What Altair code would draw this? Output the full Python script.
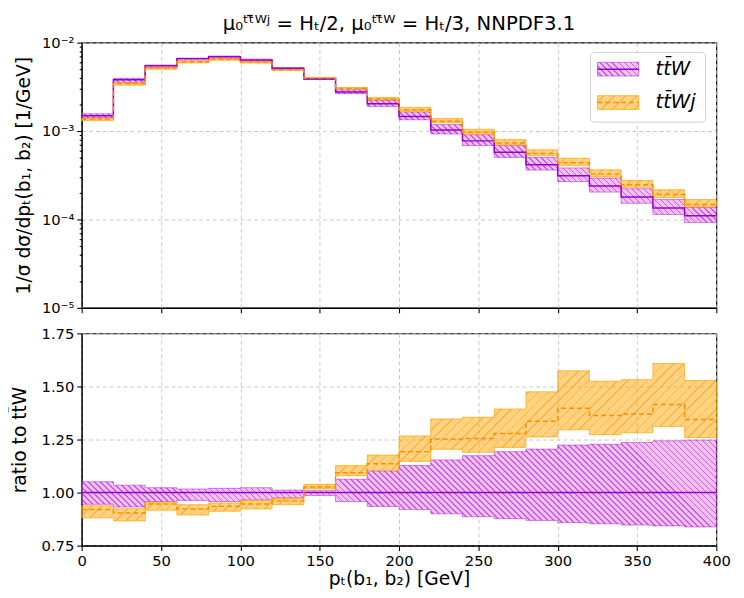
import math
import altair as alt
import pandas as pd

# ---------------- data ----------------
edges = [0, 20, 40, 60, 80, 100, 120, 140, 160, 180, 200,
         220, 240, 260, 280, 300, 320, 340, 360, 380, 400]

# ttW central distribution [1/GeV]
ttw_central = [1.49e-3, 3.81e-3, 5.46e-3, 6.59e-3, 6.93e-3, 6.36e-3, 5.14e-3,
               3.88e-3, 2.76e-3, 2.03e-3, 1.46e-3, 1.03e-3, 7.74e-4, 5.74e-4,
               4.16e-4, 3.13e-4, 2.39e-4, 1.80e-4, 1.35e-4, 1.10e-4]

# ttW scale band, as ratio to ttW central
ttw_ratio_lo = [0.945, 0.932, 0.958, 0.963, 0.958, 0.965, 0.974, 0.986, 0.958, 0.935,
                0.920, 0.900, 0.886, 0.877, 0.869, 0.858, 0.853, 0.847, 0.843, 0.838]
ttw_ratio_hi = [1.051, 1.035, 1.023, 1.017, 1.020, 1.023, 1.012, 1.009, 1.063, 1.102,
                1.128, 1.154, 1.174, 1.193, 1.205, 1.224, 1.228, 1.236, 1.244, 1.247]

# ttWj central and band, as ratio to ttW central
ttwj_ratio = [0.920, 0.904, 0.946, 0.923, 0.935, 0.946, 0.961, 1.026, 1.094, 1.136,
              1.193, 1.252, 1.255, 1.278, 1.336, 1.397, 1.363, 1.370, 1.415, 1.344]
ttwj_ratio_lo = [0.881, 0.866, 0.917, 0.894, 0.912, 0.923, 0.943, 1.017, 1.079, 1.105,
                 1.147, 1.204, 1.190, 1.213, 1.262, 1.296, 1.273, 1.282, 1.312, 1.259]
ttwj_ratio_hi = [0.938, 0.924, 0.955, 0.943, 0.951, 0.965, 0.974, 1.039, 1.128, 1.177,
                 1.267, 1.347, 1.355, 1.394, 1.475, 1.574, 1.525, 1.532, 1.608, 1.528]

NAME_W = "tt\u0304W"
NAME_WJ = "tt\u0304Wj"

x_ticks = [0, 50, 100, 150, 200, 250, 300, 350, 400]
ratio_ticks = [0.75, 1.00, 1.25, 1.50, 1.75]
decades = [1e-5, 1e-4, 1e-3, 1e-2]
log_ticks = [float(f"{k}e{e}") for e in (-5, -4, -3) for k in range(1, 10)] + [1e-2]

# ---------------- helpers ----------------
def mul(a, b):
    return [x * y for x, y in zip(a, b)]

def step_df(mid, lo, hi, name):
    return pd.DataFrame({
        "x": edges,
        "mid": mid + [mid[-1]],
        "lo": lo + [lo[-1]],
        "hi": hi + [hi[-1]],
        "series": name,
    })

top_w = step_df(ttw_central, mul(ttw_central, ttw_ratio_lo), mul(ttw_central, ttw_ratio_hi), NAME_W)
top_wj = step_df(mul(ttw_central, ttwj_ratio), mul(ttw_central, ttwj_ratio_lo),
                 mul(ttw_central, ttwj_ratio_hi), NAME_WJ)
bot_w = step_df([1.0] * len(ttw_central), ttw_ratio_lo, ttw_ratio_hi, NAME_W)
bot_wj = step_df(ttwj_ratio, ttwj_ratio_lo, ttwj_ratio_hi, NAME_WJ)

W, H1, H2 = 646, 270, 216
Y_LOG_MIN, Y_LOG_MAX = 1e-5, 1e-2
R_MIN, R_MAX = 0.75, 1.75
PURPLE_LINE = "darkviolet"
PURPLE_FILL = "violet"
ORANGE_LINE = "darkorange"
ORANGE_FILL = "orange"
FONT = "DejaVu Sans"
P_HATCH = dict(period=4.3, lw=1.2, rgb="148,0,211", alpha=0.5, forward=False)
O_HATCH = dict(period=7.0, lw=1.1, rgb="255,140,0", alpha=0.45, forward=True)


def hatch(bw, bh, period, lw, rgb, alpha, forward):
    """45-degree hatch stripes as a linear gradient over a bw x bh pixel bounding box."""
    dist = (bw + bh) / math.sqrt(2)
    n = max(1, int(dist / period))
    frac = lw / dist
    on = f"rgba({rgb},{alpha})"
    off = f"rgba({rgb},0)"
    stops = []
    for k in range(n):
        a = (k + 0.5) / n
        b = min(1.0, a + frac)
        stops += [alt.GradientStop(offset=a, color=off), alt.GradientStop(offset=a, color=on),
                  alt.GradientStop(offset=b, color=on), alt.GradientStop(offset=b, color=off)]
    f = (bw + bh) / (bw ** 2 + bh ** 2)
    dx, dy = bw * f, bh * f
    if forward:   # "/" hatch
        x1, y1, x2, y2 = 0, 0, dx, dy
    else:         # "\" hatch
        x1, y1, x2, y2 = 0, 1, dx, 1 - dy
    return alt.LinearGradient(gradient="linear", stops=stops, x1=x1, y1=y1, x2=x2, y2=y2)


def band_hatch(df, log, plot_h, style):
    lo, hi = df["lo"].min(), df["hi"].max()
    if log:
        bh = math.log10(hi / lo) / math.log10(Y_LOG_MAX / Y_LOG_MIN) * plot_h
    else:
        bh = (hi - lo) / (R_MAX - R_MIN) * plot_h
    return hatch(W, bh, **style)


x_scale = alt.Scale(domain=[0, 400], nice=False, zero=False)

x_top = alt.X("x:Q", scale=x_scale,
              axis=alt.Axis(values=x_ticks, labels=False, title=None, grid=True))
x_bot = alt.X("x:Q", scale=x_scale,
              axis=alt.Axis(values=x_ticks, title="p\u209c(b\u2081, b\u2082) [GeV]", grid=True,
                            labelFlush=False, titlePadding=2))

major = " || ".join(f"datum.value == {d!r}" for d in decades)
label_expr = ("datum.value == 0.01 ? '10\u207b\u00b2' : datum.value == 0.001 ? '10\u207b\u00b3' : "
              "datum.value == 0.0001 ? '10\u207b\u2074' : datum.value == 1e-05 ? '10\u207b\u2075' : ''")

y_top_axis = alt.Axis(values=log_ticks, labelExpr=label_expr,
                      title="1/\u03c3 d\u03c3/dp\u209c(b\u2081, b\u2082) [1/GeV]",
                      tickSize={"condition": {"test": major, "value": 5}, "value": 2.5},
                      gridOpacity={"condition": {"test": major, "value": 1}, "value": 0},
                      titlePadding=8)
y_top_scale = alt.Scale(type="log", domain=[Y_LOG_MIN, Y_LOG_MAX], nice=False)

y_bot_axis = alt.Axis(values=ratio_ticks, format=".2f", title="ratio to tt\u0304W", titlePadding=12)
y_bot_scale = alt.Scale(domain=[R_MIN, R_MAX], nice=False, zero=False)


def panel(df_w, df_wj, x_enc, y_scale, y_axis, log, plot_h):
    def y(field):
        return alt.Y(f"{field}:Q", scale=y_scale, axis=y_axis)

    area_w = alt.Chart(df_w).mark_area(
        interpolate="step-after", fill=PURPLE_FILL, fillOpacity=0.5, stroke=PURPLE_LINE,
        strokeOpacity=0.45, strokeWidth=1
    ).encode(x=x_enc, y=y("lo"), y2="hi:Q")
    hatch_w = alt.Chart(df_w).mark_area(
        interpolate="step-after", fill=band_hatch(df_w, log, plot_h, P_HATCH)
    ).encode(x=x_enc, y=y("lo"), y2="hi:Q")
    area_wj = alt.Chart(df_wj).mark_area(
        interpolate="step-after", fill=ORANGE_FILL, fillOpacity=0.5, stroke=ORANGE_FILL,
        strokeOpacity=0.7, strokeWidth=1
    ).encode(x=x_enc, y=y("lo"), y2="hi:Q")
    hatch_wj = alt.Chart(df_wj).mark_area(
        interpolate="step-after", fill=band_hatch(df_wj, log, plot_h, O_HATCH)
    ).encode(x=x_enc, y=y("lo"), y2="hi:Q")
    line_w = alt.Chart(df_w).mark_line(
        interpolate="step-after", color=PURPLE_LINE, strokeWidth=1.5
    ).encode(x=x_enc, y=y("mid"))
    line_wj = alt.Chart(df_wj).mark_line(
        interpolate="step-after", color=ORANGE_LINE, strokeWidth=1.5, strokeDash=[5, 3]
    ).encode(x=x_enc, y=y("mid"))
    return [area_w, hatch_w, area_wj, hatch_wj, line_w, line_wj]


# ---------------- legend (drawn as marks, top-right of the upper panel) ----------------
one = pd.DataFrame({"k": [0]})
LX0, LX1, LY0, LY1 = 518, 635, 10, 81          # legend box
SX0, SX1 = 525, 567                             # patch extent
ROWS = [(NAME_W, 27, PURPLE_FILL, P_HATCH, PURPLE_LINE, None, 0.45),
        (NAME_WJ, 61, ORANGE_FILL, O_HATCH, ORANGE_LINE, [5, 3], 0.7)]

legend_layers = [
    alt.Chart(one).mark_rect(fill="white", fillOpacity=0.85, stroke="#d0d0d0", strokeWidth=1,
                             cornerRadius=4).encode(
        x=alt.value(LX0), x2=alt.value(LX1), y=alt.value(LY0), y2=alt.value(LY1))
]
for name, cy, fill, style, line, dash, sop in ROWS:
    stroke_color = PURPLE_LINE if fill == PURPLE_FILL else ORANGE_FILL
    legend_layers.append(
        alt.Chart(one).mark_rect(fill=fill, fillOpacity=0.5, stroke=stroke_color,
                                 strokeOpacity=sop, strokeWidth=1).encode(
            x=alt.value(SX0), x2=alt.value(SX1), y=alt.value(cy - 7), y2=alt.value(cy + 7)))
    legend_layers.append(
        alt.Chart(one).mark_rect(fill=hatch(SX1 - SX0, 14, **style)).encode(
            x=alt.value(SX0), x2=alt.value(SX1), y=alt.value(cy - 7), y2=alt.value(cy + 7)))
    rule_kw = dict(color=line, strokeWidth=1.5)
    if dash:
        rule_kw["strokeDash"] = dash
    legend_layers.append(
        alt.Chart(one).mark_rule(**rule_kw).encode(
            x=alt.value(SX0), x2=alt.value(SX1), y=alt.value(cy)))
    legend_layers.append(
        alt.Chart(one).mark_text(text=name, font=FONT, fontSize=20, fontStyle="italic",
                                 align="left", baseline="middle", color="black").encode(
            x=alt.value(584), y=alt.value(cy)))

top = alt.layer(*panel(top_w, top_wj, x_top, y_top_scale, y_top_axis, True, H1),
                *legend_layers).properties(
    width=W, height=H1,
    title=alt.TitleParams(
        text="\u03bc\u2080\u1d57\u1d57\u0304\u1d42\u02b2 = H\u209c/2, \u03bc\u2080\u1d57\u1d57\u0304\u1d42 = H\u209c/3, NNPDF3.1",
        fontSize=20, font=FONT, fontWeight="normal", anchor="middle", offset=2, color="black"),
)
bottom = alt.layer(*panel(bot_w, bot_wj, x_bot, y_bot_scale, y_bot_axis, False, H2)).properties(
    width=W, height=H2)

chart = alt.vconcat(top, bottom, spacing=9).configure(
    font=FONT, padding={"left": 2, "top": 0, "right": 5, "bottom": 0}
).configure_view(
    stroke="black", strokeWidth=1.2
).configure_axis(
    labelFont=FONT, titleFont=FONT, labelFontSize=15, titleFontSize=19,
    titleFontWeight="normal", labelColor="black", titleColor="black",
    domainColor="black", tickColor="black", tickWidth=1.1, domainWidth=1.1,
    gridColor="#c8c8c8", gridDash=[4, 3], gridWidth=1, labelPadding=3,
)

chart.save("out.html", embed_options={"renderer": "svg", "actions": False})
